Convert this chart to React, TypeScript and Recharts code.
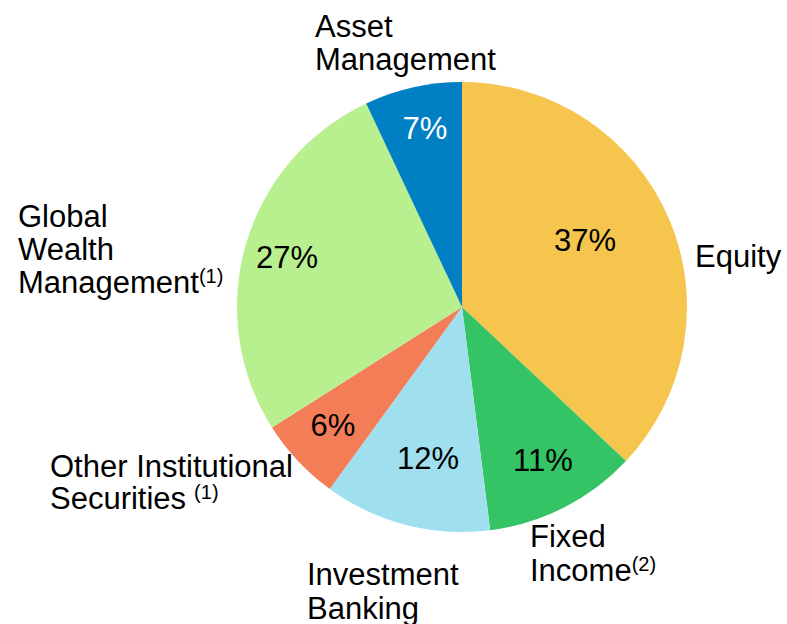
import { PieChart, Pie, Cell } from "recharts"

// Revenue mix by business
const segments = [
  "Equity",
  "Fixed Income",
  "Investment Banking",
  "Other Institutional Securities",
  "Global Wealth Management",
  "Asset Management",
]
const shares = [37, 11, 12, 6, 27, 7]
const colors = ["#F5C54E", "#34C466", "#A0DFEE", "#F27D56", "#B9F08F", "#0080C3"]

const data = segments.map((name, i) => ({ name, value: shares[i] }))

const CX = 462
const CY = 307
const FONT = "'Liberation Sans', Arial, sans-serif"
const FS = 31

// where the percentage sits inside each slice, relative to centre
const pctOffset: Record<string, [number, number]> = {
  "Equity": [123, -67],
  "Fixed Income": [81, 153],
  "Investment Banking": [-34, 151],
  "Other Institutional Securities": [-129, 118],
  "Global Wealth Management": [-175, -50],
  "Asset Management": [-37, -179],
}

type Line = { text: string; sup?: string; supGap?: boolean }
// outside captions: x, first baseline, line height, lines
const captions: Record<string, { x: number; y: number; lh: number; lines: Line[] }> = {
  "Equity": { x: 695, y: 267, lh: 34, lines: [{ text: "Equity" }] },
  "Fixed Income": { x: 530, y: 547, lh: 34, lines: [{ text: "Fixed" }, { text: "Income", sup: "(2)" }] },
  "Investment Banking": { x: 307, y: 585, lh: 34, lines: [{ text: "Investment" }, { text: "Banking" }] },
  "Other Institutional Securities": {
    x: 50, y: 477, lh: 32,
    lines: [{ text: "Other Institutional" }, { text: "Securities", sup: "(1)", supGap: true }],
  },
  "Global Wealth Management": {
    x: 18, y: 227, lh: 33,
    lines: [{ text: "Global" }, { text: "Wealth" }, { text: "Management", sup: "(1)" }],
  },
  "Asset Management": { x: 315, y: 37, lh: 33, lines: [{ text: "Asset" }, { text: "Management" }] },
}

function SliceLabel(props: any) {
  const { name, value, index } = props
  const off = pctOffset[name]
  const cap = captions[name]
  return (
    <g>
      <text
        x={CX + off[0]}
        y={CY + off[1]}
        textAnchor="middle"
        dominantBaseline="central"
        fontFamily={FONT}
        fontSize={FS}
        fill={index === 5 ? "#ffffff" : "#000000"}
      >
        {value}%
      </text>
      <text x={cap.x} y={cap.y} fontFamily={FONT} fontSize={FS} fill="#000">
        {cap.lines.map((ln, i) => (
          <tspan key={i} x={cap.x} y={cap.y + i * cap.lh}>
            {ln.text}
            {ln.sup && (
              <tspan fontSize={20} dy={-10} dx={ln.supGap ? 8 : 0}>
                {ln.sup}
              </tspan>
            )}
          </tspan>
        ))}
      </text>
    </g>
  )
}

export default function App() {
  return (
    <div style={{ position: "absolute", left: 0, top: 0, background: "#fff" }}>
      <PieChart width={787} height={624} margin={{ top: 0, right: 0, bottom: 0, left: 0 }}>
        <Pie
          data={data}
          dataKey="value"
          nameKey="name"
          cx={CX}
          cy={CY}
          outerRadius={225}
          startAngle={90}
          endAngle={-270}
          stroke="none"
          label={SliceLabel}
          labelLine={false}
          isAnimationActive={false}
        >
          {data.map((d, i) => (
            <Cell key={d.name} fill={colors[i]} />
          ))}
        </Pie>
      </PieChart>
    </div>
  )
}
